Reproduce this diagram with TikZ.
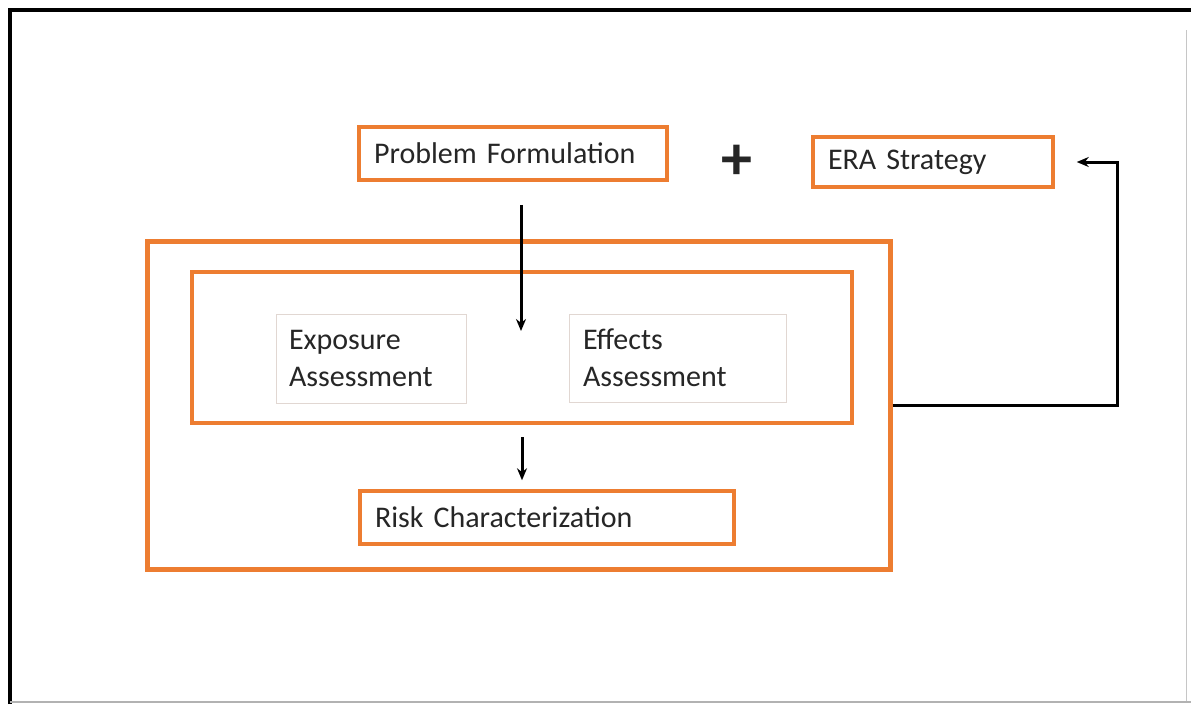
\documentclass[tikz,border=0pt]{standalone}
\usepackage{fontspec}
\setmainfont{Carlito}
\usetikzlibrary{arrows.meta}
\definecolor{orng}{RGB}{237,125,49}
\definecolor{txt}{RGB}{38,38,38}
\definecolor{faint}{RGB}{225,215,210}
\begin{document}
\begin{tikzpicture}[x=1pt,y=-1pt,
  lbl/.style={font=\fontsize{30}{37}\selectfont, text=txt, align=left},
  obox/.style={lbl, draw=orng, line width=3.5pt, inner sep=0pt},
  fbox/.style={lbl, draw=faint, line width=1pt, inner sep=0pt},
  frame/.style={draw=orng, line width=5pt},
  arr/.style={draw=black, line width=3pt, -{Stealth[length=12pt,width=10pt]}}
]
\useasboundingbox[fill=white] (0,0) rectangle (1191,704);
% outer frame
\draw[line width=4.5pt] (10,704) -- (10,10) -- (1191,10);
\draw[gray!45, line width=1pt] (1186,30) -- (1186,702);
\draw[gray!60, line width=1.5pt] (10,702) -- (1191,702);

% containers
\node[frame, minimum width=743pt, minimum height=328pt] (outer) at (518.5,405) {};
\node[draw=orng, line width=4pt, minimum width=660pt, minimum height=151pt] (inner) at (522,347.5) {};

% boxes
\node[obox, minimum width=308pt, minimum height=53pt, text width=278pt] (pf) at (513,153.5) {Problem Formulation};
\node[obox, minimum width=240pt, minimum height=50pt, text width=210pt] (era) at (933,162) {ERA Strategy};
\node[font=\bfseries\fontsize{62}{62}\selectfont, text=txt, inner sep=0pt] (plus) at (737,162) {+};
\node[fbox, minimum width=190pt, minimum height=89pt, text width=164pt] (exp) at (371,358.5) {Exposure\\Assessment};
\node[fbox, minimum width=217pt, minimum height=88pt, text width=189pt] (eff) at (677.5,358) {Effects\\Assessment};
\node[obox, minimum width=374pt, minimum height=53pt, text width=344pt] (risk) at (547,517.5) {Risk Characterization};

% connectors
\coordinate (a1e) at (521,331);
\draw[arr] (pf.south -| 521,0) ++(0,23) -- (a1e);
\draw[arr] ([yshift=-12pt]inner.south -| 522,0) -- ([yshift=9pt]risk.north -| 522,0);
\draw[arr] (outer.east) -- (1117,405) |- ([xshift=22pt]era.east);
\end{tikzpicture}
\end{document}
